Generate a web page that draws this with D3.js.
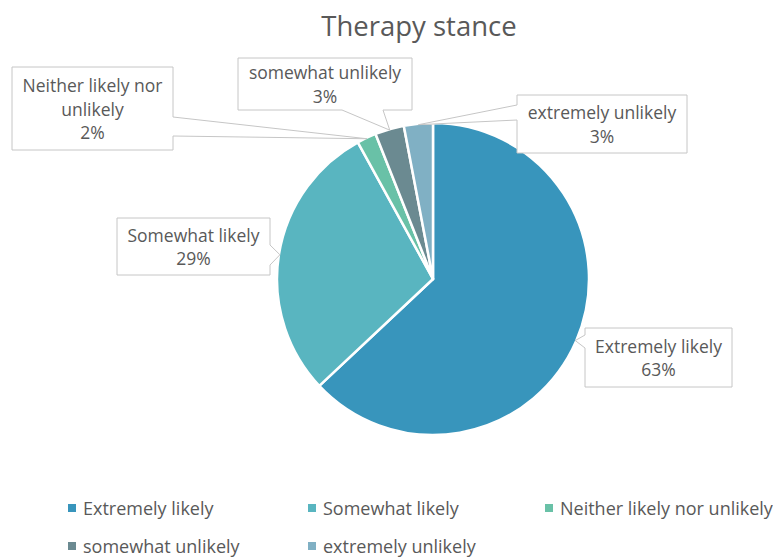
<!DOCTYPE html>
<html>
<head>
<meta charset="utf-8">
<script src="https://cdn.jsdelivr.net/npm/d3@7"></script>
<style>
  html, body { margin: 0; padding: 0; background: #fff; }
  svg { display: block; font-family: "Open Sans", "Noto Sans", sans-serif; }
</style>
</head>
<body>
<svg id="chart" width="773" height="559"></svg>
<script>
// Survey answers and their shares (percent)
const categories = ["Extremely likely", "Somewhat likely", "Neither likely nor unlikely", "somewhat unlikely", "extremely unlikely"];
const shares = [63, 29, 2, 3, 3];
const chartTitle = "Therapy stance";

// Slice colours, in category order
const palette = ["#3895bc", "#59b5c0", "#69c1a7", "#6b8a91", "#80b0c4"];

const W = 773, H = 559;
const svg = d3.select("#chart");
const textColor = "#595959";
const labelSize = 17.5;

const data = categories.map((c, i) => ({ name: c, value: shares[i] }));
const color = d3.scaleOrdinal().domain(categories).range(palette);

// Title
svg.append("text")
  .attr("x", 419).attr("y", 25)
  .attr("text-anchor", "middle").attr("dominant-baseline", "central")
  .attr("font-size", 27.5).attr("fill", textColor)
  .text(chartTitle);

// Pie
const cx = 433, cy = 279, R = 156;
const pie = d3.pie().sort(null).value(d => d.value);
const arcs = pie(data);
const arc = d3.arc().innerRadius(0).outerRadius(R);
const rim = d3.arc().innerRadius(R - 1).outerRadius(R - 1);

const g = svg.append("g").attr("transform", `translate(${cx},${cy})`);
g.selectAll("path.slice")
  .data(arcs)
  .join("path")
  .attr("class", "slice")
  .attr("d", arc)
  .attr("fill", d => color(d.data.name))
  .attr("stroke", "#fff")
  .attr("stroke-width", 2.5)
  .attr("stroke-linejoin", "round");

// Callout boxes: box rectangle, the edge the pointer leaves from and its base span
const callouts = [
  { x: 585, y: 328, w: 147, h: 59, side: "left",   base: [335, 348] },
  { x: 117, y: 218, w: 153, h: 57, side: "right",  base: [245, 265] },
  { x: 12,  y: 67,  w: 161, h: 83, side: "right",  base: [117, 136] },
  { x: 238, y: 58,  w: 174, h: 52, side: "bottom", base: [342, 383] },
  { x: 517, y: 95,  w: 170, h: 58, side: "left",   base: [105, 120] }
];

function calloutPath(b, tip) {
  const x0 = b.x, y0 = b.y, x1 = b.x + b.w, y1 = b.y + b.h;
  const p = d3.path();
  p.moveTo(x0, y0);
  p.lineTo(x1, y0);
  if (b.side === "right") {
    p.lineTo(x1, b.base[0]); p.lineTo(tip[0], tip[1]); p.lineTo(x1, b.base[1]);
  }
  p.lineTo(x1, y1);
  if (b.side === "bottom") {
    p.lineTo(b.base[1], y1); p.lineTo(tip[0], tip[1]); p.lineTo(b.base[0], y1);
  }
  p.lineTo(x0, y1);
  if (b.side === "left") {
    p.lineTo(x0, b.base[1]); p.lineTo(tip[0], tip[1]); p.lineTo(x0, b.base[0]);
  }
  p.closePath();
  return p.toString();
}

// Word-wrap a label into lines that fit the given width
const measurer = svg.append("text").attr("font-size", labelSize).attr("visibility", "hidden");
function wrap(label, maxW) {
  const words = label.split(" ");
  const lines = [];
  let cur = "";
  words.forEach(w => {
    const trial = cur ? cur + " " + w : w;
    measurer.text(trial);
    if (measurer.node().getComputedTextLength() > maxW && cur) {
      lines.push(cur); cur = w;
    } else cur = trial;
  });
  if (cur) lines.push(cur);
  return lines;
}

const labelLayer = svg.append("g");
arcs.forEach((a, i) => {
  const b = callouts[i];
  const c = rim.centroid(a);
  const tip = [cx + c[0], cy + c[1]];
  labelLayer.append("path")
    .attr("d", calloutPath(b, tip))
    .attr("fill", "#fff")
    .attr("stroke", "#c6c6c6")
    .attr("stroke-width", 1);
  const lines = wrap(a.data.name, b.w - 10).concat([`${a.data.value}%`]);
  const lh = 23.5;
  const midY = b.y + b.h / 2;
  const t = labelLayer.append("text")
    .attr("text-anchor", "middle")
    .attr("font-size", labelSize)
    .attr("fill", textColor);
  lines.forEach((ln, j) => {
    t.append("tspan")
      .attr("x", b.x + b.w / 2)
      .attr("y", midY + (j - (lines.length - 1) / 2) * lh)
      .attr("dominant-baseline", "central")
      .text(ln);
  });
});
measurer.remove();

// Legend
const legendCols = [68, 308, 545];
const legendRows = [508, 546];
const legend = svg.append("g");
categories.forEach((c, i) => {
  const x = legendCols[i % 3], y = legendRows[Math.floor(i / 3)];
  legend.append("rect")
    .attr("x", x).attr("y", y - 4)
    .attr("width", 8).attr("height", 8)
    .attr("fill", color(c));
  legend.append("text")
    .attr("x", x + 15).attr("y", y)
    .attr("dominant-baseline", "central")
    .attr("font-size", 18)
    .attr("fill", textColor)
    .text(c);
});
</script>
</body>
</html>
